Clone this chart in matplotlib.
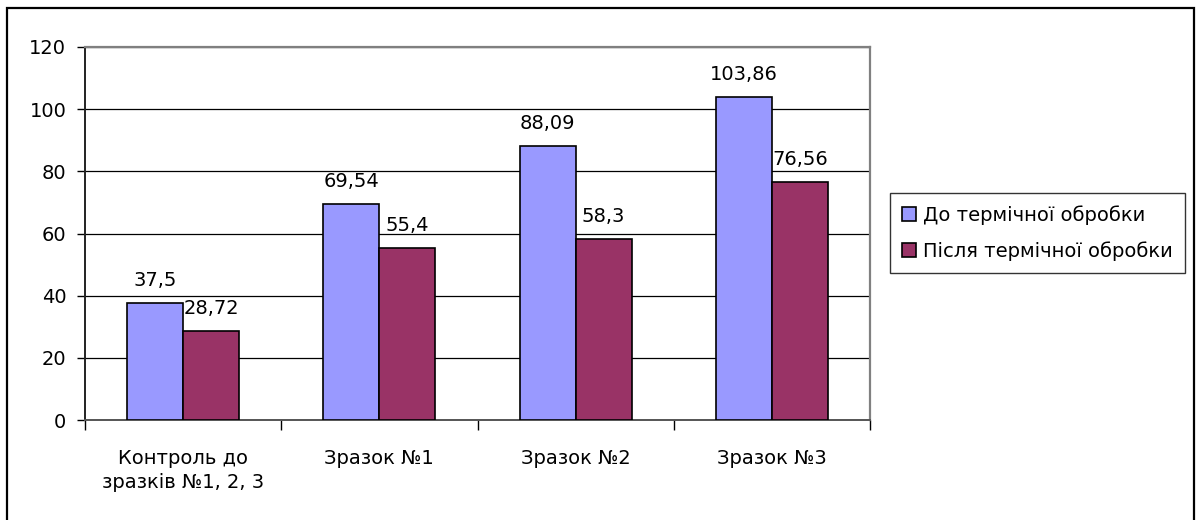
import matplotlib
matplotlib.use("Agg")
import matplotlib.pyplot as plt
import numpy as np
from matplotlib.patches import Rectangle

plt.rcParams['font.family'] = ['DejaVu Sans']

categories = ["Контроль до\nзразків №1, 2, 3", "Зразок №1", "Зразок №2", "Зразок №3"]
before = [37.5, 69.54, 88.09, 103.86]
after = [28.72, 55.4, 58.3, 76.56]
before_labels = ["37,5", "69,54", "88,09", "103,86"]
after_labels = ["28,72", "55,4", "58,3", "76,56"]
series_names = ["До термічної обробки", "Після термічної обробки"]
yticks = [0, 20, 40, 60, 80, 100, 120]

FS = 14
W, H = 1196, 520
fig = plt.figure(figsize=(W / 100, H / 100), dpi=100)
fig.patch.set_facecolor("white")

# outer chart border (runs past the lower edge of the canvas)
fig.add_artist(Rectangle((7 / W, -0.05), 1187 / W, 1.05 - 8 / H, transform=fig.transFigure,
                         fill=False, edgecolor="black", linewidth=1.6, clip_on=False))

left, right, top, bottom = 85, 870, 47, 420
ax = fig.add_axes([left / W, 1 - bottom / H, (right - left) / W, (bottom - top) / H])

x = np.arange(len(categories))
bw = 0.285
c_before = "#9999FF"
c_after = "#993366"

b1 = ax.bar(x - bw / 2, before, bw, color=c_before, edgecolor="black", linewidth=1.2,
            label=series_names[0], zorder=3)
b2 = ax.bar(x + bw / 2, after, bw, color=c_after, edgecolor="black", linewidth=1.2,
            label=series_names[1], zorder=3)

for bars, labels in ((b1, before_labels), (b2, after_labels)):
    for rect, txt in zip(bars, labels):
        ax.annotate(txt, (rect.get_x() + rect.get_width() / 2, rect.get_height()),
                    xytext=(0, 9.5), textcoords="offset points", ha="center", va="bottom",
                    fontsize=FS, zorder=4)

ax.set_xlim(-0.5, len(categories) - 0.5)
ax.set_ylim(0, 120)
ax.set_yticks(yticks)
ax.set_yticklabels([str(v) for v in yticks], fontsize=FS)
ax.yaxis.grid(True, color="black", linewidth=0.9, zorder=0)
ax.set_axisbelow(True)

ax.set_xticks(x)
ax.set_xticklabels(categories, fontsize=FS, linespacing=1.35)
ax.tick_params(axis="x", length=0, pad=21)
ax.tick_params(axis="y", length=6, width=1, direction="out", pad=7.5)
# category separator ticks
ax.set_xticks(np.arange(-0.5, len(categories), 1.0), minor=True)
ax.tick_params(axis="x", which="minor", length=7, width=1, direction="out", color="black")

for s in ["top", "right"]:
    ax.spines[s].set_color("#808080")
    ax.spines[s].set_linewidth(1.6)
ax.spines["left"].set_color("#222222")
ax.spines["left"].set_linewidth(1.4)
ax.spines["bottom"].set_color("#555555")
ax.spines["bottom"].set_linewidth(1.4)

leg = fig.legend(handles=[b1, b2], labels=series_names, loc="upper left",
                 bbox_to_anchor=(890 / W, 1 - 193 / H), fontsize=FS,
                 frameon=True, fancybox=False, edgecolor="black",
                 handlelength=0.72, handleheight=0.72, handletextpad=0.35,
                 borderpad=0.62, labelspacing=0.85, borderaxespad=0)
leg.get_frame().set_linewidth(1.0)

fig.savefig("out.png", dpi=100, facecolor="white")
